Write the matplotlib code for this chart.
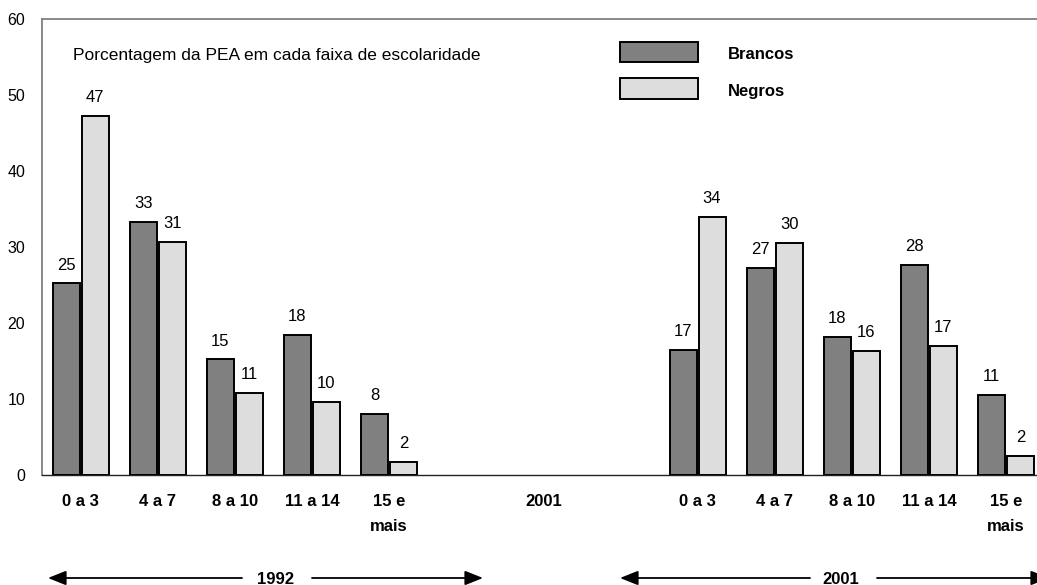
import matplotlib
matplotlib.use('Agg')
import matplotlib.pyplot as plt
from matplotlib.patches import Rectangle
import numpy as np

plt.rcParams['font.family'] = ['Liberation Sans', 'DejaVu Sans']

# ---- data ----
groups = ["0 a 3", "4 a 7", "8 a 10", "11 a 14", "15 e\nmais"]
x_labels = groups + ["", "2001", ""] + groups

brancos_1992 = [25.2, 33.3, 15.2, 18.4, 8.0]
negros_1992 = [47.2, 30.7, 10.8, 9.6, 1.7]
brancos_2001 = [16.5, 27.3, 18.2, 27.6, 10.5]
negros_2001 = [34.0, 30.5, 16.3, 17.0, 2.5]

brancos_1992_lbl = [25, 33, 15, 18, 8]
negros_1992_lbl = [47, 31, 11, 10, 2]
brancos_2001_lbl = [17, 27, 18, 28, 11]
negros_2001_lbl = [34, 30, 16, 17, 2]

y_ticks = [0, 10, 20, 30, 40, 50, 60]
series_names = ["Brancos", "Negros"]
note_text = "Porcentagem da PEA em cada faixa de escolaridade"
period_labels = ["1992", "2001"]

# ---- style ----
C_BR = "#808080"
C_NE = "#DDDDDD"
W, H = 1037, 585

fig = plt.figure(figsize=(W / 100, H / 100), dpi=100)
ax = fig.add_axes([42 / W, 110 / H, 1002.6 / W, 456 / H])

pos_1992 = np.arange(0, 5)
pos_2001 = np.arange(8, 13)
bw = 0.35
off = 0.188

for pos, b, n, bl, nl in [(pos_1992, brancos_1992, negros_1992, brancos_1992_lbl, negros_1992_lbl),
                          (pos_2001, brancos_2001, negros_2001, brancos_2001_lbl, negros_2001_lbl)]:
    rb = ax.bar(pos - off, b, bw, color=C_BR, edgecolor='black', linewidth=1.4, zorder=3)
    rn = ax.bar(pos + off, n, bw, color=C_NE, edgecolor='black', linewidth=1.4, zorder=3)
    for rects, labels in [(rb, bl), (rn, nl)]:
        for r, l in zip(rects, labels):
            ax.annotate(str(l), (r.get_x() + r.get_width() / 2, r.get_height()),
                        xytext=(0, 10), textcoords='offset points',
                        ha='center', va='baseline', fontsize=12)

ax.set_xlim(-0.5, 12.5)
ax.set_ylim(0, 60)
ax.set_yticks(y_ticks)
ax.set_xticks(np.arange(len(x_labels)))
ax.set_xticklabels(x_labels, fontweight='bold', fontsize=12)
for t in ax.get_xticklabels():
    t.set_linespacing(1.8)
ax.tick_params(axis='x', length=0, pad=14)
ax.tick_params(axis='y', length=0, pad=12, labelsize=11.5)

for s in ['left', 'top']:
    ax.spines[s].set_color('#808080')
    ax.spines[s].set_linewidth(1.3)
ax.spines['bottom'].set_color('#222222')
ax.spines['bottom'].set_linewidth(1.0)
ax.spines['right'].set_visible(False)

# note text
fig.text(72.7 / W, 1 - 60 / H, note_text, fontsize=12.5, ha='left', va='baseline')

# legend
for (y0, y1), col, name, base in [((42, 62), C_BR, series_names[0], 59),
                                  ((78, 99), C_NE, series_names[1], 96)]:
    fig.add_artist(Rectangle((620 / W, 1 - y1 / H), 78 / W, (y1 - y0) / H,
                             transform=fig.transFigure, facecolor=col,
                             edgecolor='black', linewidth=1.4))
    fig.text(728 / W, 1 - base / H, name, fontsize=12, fontweight='bold',
             ha='left', va='baseline')

# period arrows
arrow_kw = dict(arrowstyle='-|>,head_length=0.55,head_width=0.22', color='black',
                lw=1.3, shrinkA=0, shrinkB=0, mutation_scale=20)
segments = [((242, 7), (48, 7)), ((312, 7), (483, 7)),
            ((810, 7), (620, 7)), ((877, 7), (1049, 7))]
for start, end in segments:
    ax.annotate('', xy=end, xytext=start, xycoords='figure pixels',
                textcoords='figure pixels', arrowprops=arrow_kw,
                annotation_clip=False)
for x, lab in zip([275, 841], period_labels):
    fig.text(x / W, 1.5 / H, lab, fontsize=12, fontweight='bold',
             ha='center', va='baseline')

fig.savefig('out.png', dpi=100)
